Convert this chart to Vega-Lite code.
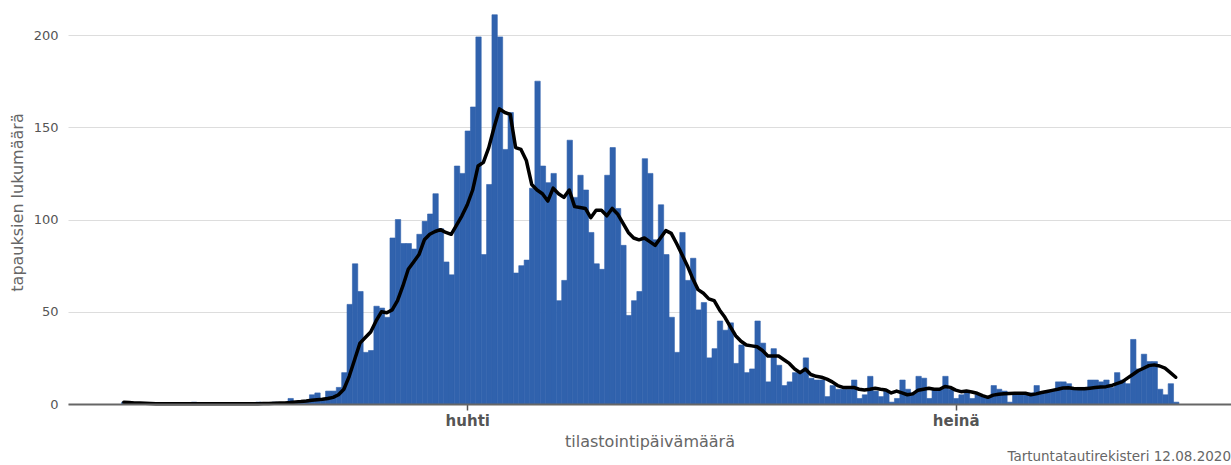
{
  "$schema": "https://vega.github.io/schema/vega-lite/v6.json",
  "width": 1163,
  "height": 404,
  "autosize": {"type": "none"},
  "padding": {"left": 68, "top": 0, "right": 0, "bottom": 61},
  "background": "white",
  "title": {"text": "Tartuntatautirekisteri 12.08.2020", "orient": "bottom", "anchor": "end", "frame": "group", "fontSize": 13.5, "fontWeight": "normal", "color": "#666666", "font": "DejaVu Sans", "offset": 1},
  "data": {"values": [
    {"date":"2020-01-28","cases":1,"avg":1.0},
    {"date":"2020-01-29","cases":0,"avg":0.8},
    {"date":"2020-01-30","cases":0,"avg":0.6},
    {"date":"2020-01-31","cases":0,"avg":0.5},
    {"date":"2020-02-01","cases":0,"avg":0.4},
    {"date":"2020-02-02","cases":0,"avg":0.3},
    {"date":"2020-02-03","cases":0,"avg":0.2},
    {"date":"2020-02-04","cases":0,"avg":0.2},
    {"date":"2020-02-05","cases":0,"avg":0.2},
    {"date":"2020-02-06","cases":0,"avg":0.2},
    {"date":"2020-02-07","cases":0,"avg":0.2},
    {"date":"2020-02-08","cases":0,"avg":0.2},
    {"date":"2020-02-09","cases":0,"avg":0.2},
    {"date":"2020-02-10","cases":1,"avg":0.2},
    {"date":"2020-02-11","cases":0,"avg":0.2},
    {"date":"2020-02-12","cases":0,"avg":0.2},
    {"date":"2020-02-13","cases":0,"avg":0.2},
    {"date":"2020-02-14","cases":0,"avg":0.2},
    {"date":"2020-02-15","cases":0,"avg":0.1},
    {"date":"2020-02-16","cases":0,"avg":0.1},
    {"date":"2020-02-17","cases":0,"avg":0.1},
    {"date":"2020-02-18","cases":0,"avg":0.1},
    {"date":"2020-02-19","cases":0,"avg":0.1},
    {"date":"2020-02-20","cases":0,"avg":0.1},
    {"date":"2020-02-21","cases":0,"avg":0.2},
    {"date":"2020-02-22","cases":1,"avg":0.2},
    {"date":"2020-02-23","cases":0,"avg":0.3},
    {"date":"2020-02-24","cases":0,"avg":0.3},
    {"date":"2020-02-25","cases":1,"avg":0.4},
    {"date":"2020-02-26","cases":0,"avg":0.5},
    {"date":"2020-02-27","cases":0,"avg":0.6},
    {"date":"2020-02-28","cases":3,"avg":0.8},
    {"date":"2020-02-29","cases":1,"avg":1.1},
    {"date":"2020-03-01","cases":1,"avg":1.3},
    {"date":"2020-03-02","cases":2,"avg":1.6},
    {"date":"2020-03-03","cases":5,"avg":2.0},
    {"date":"2020-03-04","cases":6,"avg":2.3},
    {"date":"2020-03-05","cases":3,"avg":2.6},
    {"date":"2020-03-06","cases":7,"avg":3.0},
    {"date":"2020-03-07","cases":7,"avg":3.6},
    {"date":"2020-03-08","cases":9,"avg":5.0},
    {"date":"2020-03-09","cases":17,"avg":8},
    {"date":"2020-03-10","cases":54,"avg":15},
    {"date":"2020-03-11","cases":76,"avg":24},
    {"date":"2020-03-12","cases":61,"avg":33},
    {"date":"2020-03-13","cases":28,"avg":36},
    {"date":"2020-03-14","cases":29,"avg":39},
    {"date":"2020-03-15","cases":53,"avg":45},
    {"date":"2020-03-16","cases":52,"avg":50},
    {"date":"2020-03-17","cases":47,"avg":49.5},
    {"date":"2020-03-18","cases":90,"avg":51},
    {"date":"2020-03-19","cases":100,"avg":56},
    {"date":"2020-03-20","cases":87,"avg":64},
    {"date":"2020-03-21","cases":87,"avg":73},
    {"date":"2020-03-22","cases":84,"avg":77},
    {"date":"2020-03-23","cases":92,"avg":81},
    {"date":"2020-03-24","cases":99,"avg":89},
    {"date":"2020-03-25","cases":103,"avg":92},
    {"date":"2020-03-26","cases":114,"avg":93.5},
    {"date":"2020-03-27","cases":95,"avg":94.5},
    {"date":"2020-03-28","cases":77,"avg":93},
    {"date":"2020-03-29","cases":70,"avg":92},
    {"date":"2020-03-30","cases":129,"avg":97},
    {"date":"2020-03-31","cases":125,"avg":102},
    {"date":"2020-04-01","cases":148,"avg":108},
    {"date":"2020-04-02","cases":161,"avg":116},
    {"date":"2020-04-03","cases":199,"avg":129},
    {"date":"2020-04-04","cases":81,"avg":131},
    {"date":"2020-04-05","cases":119,"avg":139},
    {"date":"2020-04-06","cases":211,"avg":150},
    {"date":"2020-04-07","cases":199,"avg":160},
    {"date":"2020-04-08","cases":138,"avg":158},
    {"date":"2020-04-09","cases":158,"avg":157},
    {"date":"2020-04-10","cases":71,"avg":139},
    {"date":"2020-04-11","cases":75,"avg":138},
    {"date":"2020-04-12","cases":78,"avg":132},
    {"date":"2020-04-13","cases":117,"avg":119},
    {"date":"2020-04-14","cases":175,"avg":116},
    {"date":"2020-04-15","cases":129,"avg":114},
    {"date":"2020-04-16","cases":120,"avg":110},
    {"date":"2020-04-17","cases":125,"avg":117},
    {"date":"2020-04-18","cases":56,"avg":114},
    {"date":"2020-04-19","cases":67,"avg":112},
    {"date":"2020-04-20","cases":143,"avg":116},
    {"date":"2020-04-21","cases":112,"avg":107},
    {"date":"2020-04-22","cases":124,"avg":106.5},
    {"date":"2020-04-23","cases":116,"avg":106},
    {"date":"2020-04-24","cases":93,"avg":101},
    {"date":"2020-04-25","cases":76,"avg":105},
    {"date":"2020-04-26","cases":73,"avg":105},
    {"date":"2020-04-27","cases":124,"avg":102},
    {"date":"2020-04-28","cases":139,"avg":106},
    {"date":"2020-04-29","cases":106,"avg":103},
    {"date":"2020-04-30","cases":86,"avg":98},
    {"date":"2020-05-01","cases":48,"avg":93},
    {"date":"2020-05-02","cases":56,"avg":90},
    {"date":"2020-05-03","cases":61,"avg":89},
    {"date":"2020-05-04","cases":133,"avg":90},
    {"date":"2020-05-05","cases":125,"avg":88},
    {"date":"2020-05-06","cases":89,"avg":86},
    {"date":"2020-05-07","cases":108,"avg":90},
    {"date":"2020-05-08","cases":81,"avg":94},
    {"date":"2020-05-09","cases":47,"avg":92.5},
    {"date":"2020-05-10","cases":28,"avg":87},
    {"date":"2020-05-11","cases":93,"avg":81},
    {"date":"2020-05-12","cases":67,"avg":75},
    {"date":"2020-05-13","cases":79,"avg":68},
    {"date":"2020-05-14","cases":51,"avg":62},
    {"date":"2020-05-15","cases":55,"avg":60},
    {"date":"2020-05-16","cases":25,"avg":57},
    {"date":"2020-05-17","cases":30,"avg":56},
    {"date":"2020-05-18","cases":45,"avg":51},
    {"date":"2020-05-19","cases":40,"avg":47},
    {"date":"2020-05-20","cases":44,"avg":42},
    {"date":"2020-05-21","cases":22,"avg":37},
    {"date":"2020-05-22","cases":32,"avg":34},
    {"date":"2020-05-23","cases":17,"avg":32},
    {"date":"2020-05-24","cases":19,"avg":31.5},
    {"date":"2020-05-25","cases":45,"avg":31},
    {"date":"2020-05-26","cases":33,"avg":29},
    {"date":"2020-05-27","cases":12,"avg":26},
    {"date":"2020-05-28","cases":30,"avg":26},
    {"date":"2020-05-29","cases":21,"avg":26},
    {"date":"2020-05-30","cases":10,"avg":24},
    {"date":"2020-05-31","cases":12,"avg":22},
    {"date":"2020-06-01","cases":17,"avg":19},
    {"date":"2020-06-02","cases":17,"avg":17},
    {"date":"2020-06-03","cases":25,"avg":19},
    {"date":"2020-06-04","cases":14,"avg":16},
    {"date":"2020-06-05","cases":13,"avg":15},
    {"date":"2020-06-06","cases":13,"avg":14.5},
    {"date":"2020-06-07","cases":4,"avg":13.5},
    {"date":"2020-06-08","cases":10,"avg":12},
    {"date":"2020-06-09","cases":8,"avg":10},
    {"date":"2020-06-10","cases":8,"avg":9},
    {"date":"2020-06-11","cases":8,"avg":9},
    {"date":"2020-06-12","cases":13,"avg":9},
    {"date":"2020-06-13","cases":3,"avg":8},
    {"date":"2020-06-14","cases":5,"avg":7.6},
    {"date":"2020-06-15","cases":15,"avg":8},
    {"date":"2020-06-16","cases":7,"avg":8.5},
    {"date":"2020-06-17","cases":4,"avg":8},
    {"date":"2020-06-18","cases":7,"avg":7.6},
    {"date":"2020-06-19","cases":1,"avg":6},
    {"date":"2020-06-20","cases":3,"avg":7},
    {"date":"2020-06-21","cases":13,"avg":6},
    {"date":"2020-06-22","cases":8,"avg":5},
    {"date":"2020-06-23","cases":6,"avg":5.5},
    {"date":"2020-06-24","cases":15,"avg":7.5},
    {"date":"2020-06-25","cases":14,"avg":8},
    {"date":"2020-06-26","cases":3,"avg":8.5},
    {"date":"2020-06-27","cases":8,"avg":8},
    {"date":"2020-06-28","cases":8,"avg":8},
    {"date":"2020-06-29","cases":15,"avg":9.5},
    {"date":"2020-06-30","cases":8,"avg":9},
    {"date":"2020-07-01","cases":3,"avg":7.5},
    {"date":"2020-07-02","cases":5,"avg":6.7},
    {"date":"2020-07-03","cases":6,"avg":7},
    {"date":"2020-07-04","cases":3,"avg":6.5},
    {"date":"2020-07-05","cases":5,"avg":5.8},
    {"date":"2020-07-06","cases":4,"avg":4.5},
    {"date":"2020-07-07","cases":4,"avg":3.6},
    {"date":"2020-07-08","cases":10,"avg":4.8},
    {"date":"2020-07-09","cases":8,"avg":5.3},
    {"date":"2020-07-10","cases":7,"avg":5.5},
    {"date":"2020-07-11","cases":1,"avg":5.7},
    {"date":"2020-07-12","cases":6,"avg":5.8},
    {"date":"2020-07-13","cases":6,"avg":5.8},
    {"date":"2020-07-14","cases":6,"avg":5.8},
    {"date":"2020-07-15","cases":6,"avg":5},
    {"date":"2020-07-16","cases":10,"avg":5.5},
    {"date":"2020-07-17","cases":6,"avg":6.2},
    {"date":"2020-07-18","cases":7,"avg":6.8},
    {"date":"2020-07-19","cases":7,"avg":7.4},
    {"date":"2020-07-20","cases":12,"avg":8},
    {"date":"2020-07-21","cases":12,"avg":8.7},
    {"date":"2020-07-22","cases":11,"avg":8.8},
    {"date":"2020-07-23","cases":8,"avg":8.4},
    {"date":"2020-07-24","cases":9,"avg":8.3},
    {"date":"2020-07-25","cases":9,"avg":8.3},
    {"date":"2020-07-26","cases":13,"avg":8.6},
    {"date":"2020-07-27","cases":13,"avg":8.9},
    {"date":"2020-07-28","cases":12,"avg":9.2},
    {"date":"2020-07-29","cases":13,"avg":9.4},
    {"date":"2020-07-30","cases":9,"avg":10},
    {"date":"2020-07-31","cases":17,"avg":11},
    {"date":"2020-08-01","cases":13,"avg":12},
    {"date":"2020-08-02","cases":11,"avg":14},
    {"date":"2020-08-03","cases":35,"avg":16},
    {"date":"2020-08-04","cases":19,"avg":18},
    {"date":"2020-08-05","cases":27,"avg":19.4},
    {"date":"2020-08-06","cases":23,"avg":20.8},
    {"date":"2020-08-07","cases":23,"avg":21.2},
    {"date":"2020-08-08","cases":8,"avg":20.6},
    {"date":"2020-08-09","cases":5,"avg":19.4},
    {"date":"2020-08-10","cases":11,"avg":17},
    {"date":"2020-08-11","cases":1,"avg":14.5}
  ]},
  "layer": [
    {
      "mark": {"type": "bar", "color": "#3062ad", "binSpacing": 0, "stroke": "#3062ad", "strokeWidth": 0.6},
      "encoding": {
        "x": {
          "field": "date", "type": "temporal", "timeUnit": "utcyearmonthdate",
          "scale": {"domain": [
            {"year": 2020, "month": 1, "date": 18, "hours": 2, "minutes": 24, "utc": true},
            {"year": 2020, "month": 8, "date": 21, "hours": 19, "minutes": 12, "utc": true}
          ]},
          "axis": {
            "values": [
              {"year": 2020, "month": 4, "date": 1, "hours": 12, "utc": true},
              {"year": 2020, "month": 7, "date": 1, "hours": 12, "utc": true}
            ],
            "labelExpr": "utcmonth(datum.value) == 3 ? 'huhti' : 'heinä'",
            "title": "tilastointipäivämäärä",
            "grid": false,
            "zindex": 1,
            "domainColor": "#666666",
            "domainWidth": 2,
            "tickColor": "#555555",
            "tickSize": 6,
            "tickWidth": 1.5,
            "labelFontSize": 15,
            "labelFontWeight": "bold",
            "labelColor": "#555555",
            "labelPadding": 3,
            "labelFlush": false,
            "titleFontSize": 16,
            "titleFontWeight": "normal",
            "titleColor": "#666666",
            "titlePadding": 5
          }
        },
        "y": {
          "field": "cases", "type": "quantitative",
          "scale": {"domain": [0, 219], "nice": false},
          "axis": {
            "values": [0, 50, 100, 150, 200],
            "title": "tapauksien lukumäärä",
            "grid": true,
            "gridColor": "#dddddd",
            "gridWidth": 1.2,
            "domain": false,
            "ticks": false,
            "labelFontSize": 13,
            "labelColor": "#555555",
            "labelPadding": 10,
            "titleFontSize": 16,
            "titleFontWeight": "normal",
            "titleColor": "#666666",
            "titlePadding": 8
          }
        }
      }
    },
    {
      "mark": {"type": "line", "color": "#000000", "strokeWidth": 3.5, "strokeJoin": "round", "strokeCap": "round"},
      "encoding": {
        "x": {"field": "date", "type": "temporal", "timeUnit": "utcyearmonthdate", "bandPosition": 0.5},
        "y": {"field": "avg", "type": "quantitative"}
      }
    }
  ],
  "config": {"view": {"stroke": null}, "font": "DejaVu Sans"}
}
